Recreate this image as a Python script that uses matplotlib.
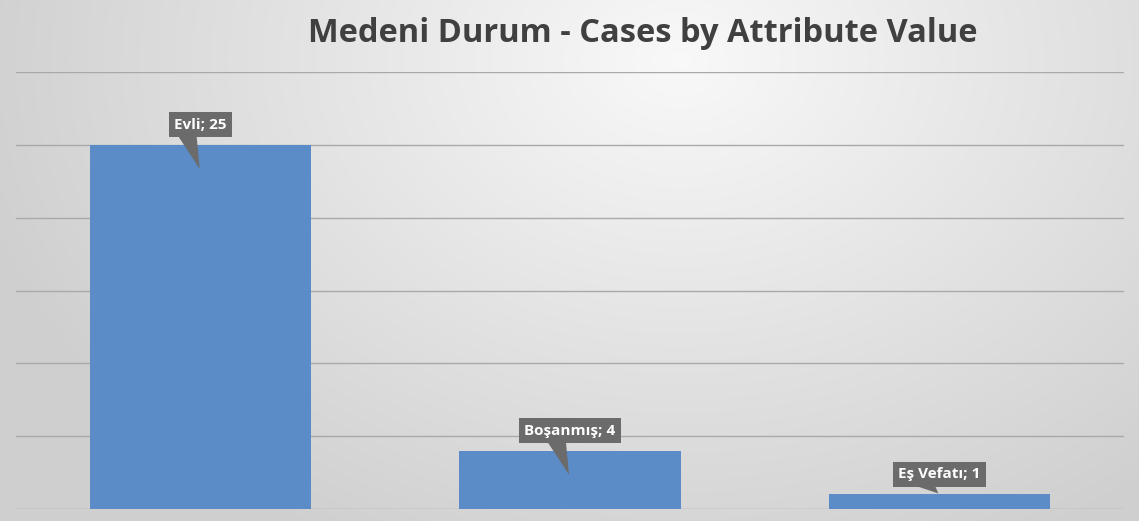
import numpy as np
import matplotlib.pyplot as plt
from matplotlib.patches import Polygon

# Data
categories = ["Evli", "Boşanmış", "Eş Vefatı"]
counts = [25, 4, 1]
title = "Medeni Durum - Cases by Attribute Value"

W, H = 1139, 521
fig = plt.figure(figsize=(W / 100, H / 100), dpi=100)

# soft gray gradient background
bg = fig.add_axes([0, 0, 1, 1], zorder=-10)
yy, xx = np.mgrid[0:H, 0:W]
r = np.sqrt(((xx - 680) / 720.0) ** 2 + ((yy - 60) / 540.0) ** 2)
shade = 0.975 - 0.16 * np.clip(r, 0, 1)
bg.imshow(np.dstack([shade] * 3), aspect="auto", extent=[0, 1, 0, 1])
bg.axis("off")

ax = fig.add_axes([16 / W, 12 / H, 1108 / W, 437 / H])
ax.patch.set_alpha(0)
x = np.arange(len(categories))
ax.bar(x, counts, width=0.6, color="#5b8cc8", zorder=2)

ax.set_xlim(-0.5, len(categories) - 0.5)
ax.set_ylim(0, 30)
ax.set_yticks(range(0, 31, 5))
ax.set_xticks([])
ax.tick_params(left=False, labelleft=False)
ax.grid(axis="y", color="#a9a9a9", linewidth=1.0, zorder=0)
for s in ax.spines.values():
    s.set_visible(False)

fig.text(643 / W, 1 - 33 / H, title, ha="center", va="center",
         fontsize=23.5, fontweight="bold", family="Open Sans", color="#404040")

# callout labels
fig.canvas.draw()
for xi, v, cat in zip(x, counts, categories):
    px, py = ax.transData.transform((xi, v))
    tip_y = py - 24 if v > 3 else py + 1
    pts = [(px - 22, py + 8), (px - 4, py + 8), (px - 1, tip_y)]
    ax.add_patch(Polygon(pts, closed=True, transform=None,
                         facecolor="#6b6b6b", edgecolor="none", zorder=4))
    ax.annotate(f"{cat}; {v}", xy=(xi, v), xytext=(0, 14.5),
                textcoords="offset points", ha="center", va="center",
                fontsize=11, fontweight="bold", family="Open Sans",
                color="white", zorder=5,
                bbox=dict(boxstyle="square,pad=0.35", fc="#6b6b6b", ec="none"))

fig.savefig("out.png", dpi=100)
